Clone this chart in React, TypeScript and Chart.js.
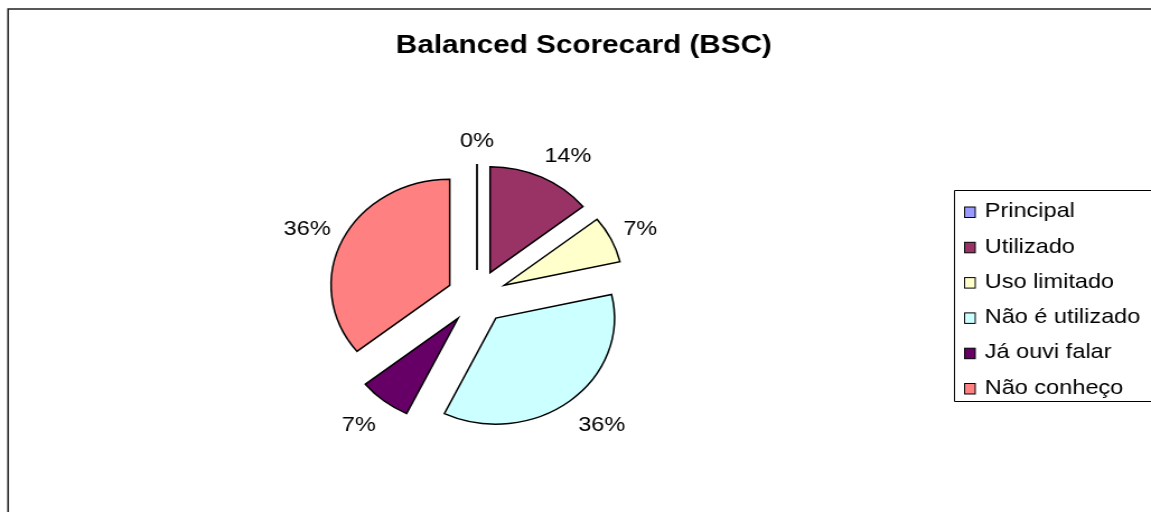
import React, { useEffect, useRef } from 'react';
import { Chart, registerables } from 'chart.js';

Chart.register(...registerables);

// ---- data ----
const categories = ['Principal', 'Utilizado', 'Uso limitado', 'Não é utilizado', 'Já ouvi falar', 'Não conheço'];
const responses = [0, 2, 1, 5, 1, 5];
const sliceColors = ['#9999FF', '#993366', '#FFFFCC', '#CCFFFF', '#660066', '#FF8080'];
const chartTitle = 'Balanced Scorecard (BSC)';

// ---- layout (internal canvas units; canvas is stretched horizontally) ----
const PAGE_W = 1151;
const PAGE_H = 512;
const CANVAS_W = 1028;
const EXPLODE = 27;
const RADIUS = 106;
const FONT = '"Liberation Sans", Arial, Helvetica, sans-serif';

const clamp1 = (v: number) => Math.max(-1, Math.min(1, v));

const decorPlugin = {
  id: 'decor',
  beforeDraw(chart: any) {
    const ctx = chart.ctx as CanvasRenderingContext2D;
    ctx.save();
    ctx.fillStyle = '#ffffff';
    ctx.fillRect(0, 0, chart.width, chart.height);
    // outer chart border (top + left visible)
    ctx.strokeStyle = '#222222';
    ctx.lineWidth = 1.5;
    ctx.beginPath();
    ctx.moveTo(7.2, chart.height + 5);
    ctx.lineTo(7.2, 9);
    ctx.lineTo(chart.width + 10, 9);
    ctx.stroke();
    // title
    ctx.fillStyle = '#000';
    ctx.font = `bold 26.5px ${FONT}`;
    ctx.textAlign = 'center';
    ctx.textBaseline = 'alphabetic';
    ctx.fillText(chartTitle, 521.5, 53);
    // legend
    const lx = 852, ly = 190, lb = 401;
    ctx.strokeStyle = '#000';
    ctx.lineWidth = 1;
    ctx.beginPath();
    ctx.moveTo(chart.width + 10, ly + 0.5);
    ctx.lineTo(lx + 0.5, ly + 0.5);
    ctx.lineTo(lx + 0.5, lb + 0.5);
    ctx.lineTo(chart.width + 10, lb + 0.5);
    ctx.stroke();
    const labels: string[] = chart.data.labels;
    const colors: string[] = chart.data.datasets[0].backgroundColor;
    ctx.font = `21px ${FONT}`;
    ctx.textAlign = 'left';
    ctx.textBaseline = 'middle';
    labels.forEach((lab, i) => {
      const rc = 211.5 + 35.3 * i;
      ctx.fillStyle = colors[i];
      ctx.fillRect(861.5, rc - 4.5, 9.5, 10.5);
      ctx.strokeStyle = '#000';
      ctx.lineWidth = 1;
      ctx.strokeRect(861.5, rc - 4.5, 9.5, 10.5);
      ctx.fillStyle = '#000';
      ctx.fillText(lab, 879.5, rc);
    });
    ctx.restore();
  },
  beforeDatasetsDraw(chart: any) {
    const ctx = chart.ctx as CanvasRenderingContext2D;
    const meta = chart.getDatasetMeta(0);
    const values: number[] = chart.data.datasets[0].data;
    const total = values.reduce((a, b) => a + b, 0);
    meta.data.forEach((arc: any) => {
      const { x, y, startAngle, endAngle, outerRadius } = arc.getProps(['x', 'y', 'startAngle', 'endAngle', 'outerRadius']);
      const mid = (startAngle + endAngle) / 2;
      ctx.save();
      ctx.translate(Math.cos(mid) * EXPLODE, Math.sin(mid) * EXPLODE);
      if (endAngle - startAngle > 0) {
        arc.draw(ctx);
      } else {
        ctx.beginPath();
        ctx.moveTo(x, y);
        ctx.lineTo(x + Math.cos(startAngle) * outerRadius, y + Math.sin(startAngle) * outerRadius);
        ctx.strokeStyle = '#000';
        ctx.lineWidth = 1.8;
        ctx.stroke();
      }
      ctx.restore();
    });
    // percentage labels
    ctx.save();
    ctx.font = `21px ${FONT}`;
    ctx.fillStyle = '#000';
    ctx.textAlign = 'center';
    ctx.textBaseline = 'middle';
    meta.data.forEach((arc: any, i: number) => {
      const { x, y, startAngle, endAngle, outerRadius } = arc.getProps(['x', 'y', 'startAngle', 'endAngle', 'outerRadius']);
      const mid = (startAngle + endAngle) / 2;
      const dx = Math.cos(mid), dy = Math.sin(mid);
      const text = `${Math.round((values[i] / total) * 100)}%`;
      const w = ctx.measureText(text).width;
      const r = EXPLODE + outerRadius;
      const px = x + dx * (r + 12) + (w / 2) * clamp1(2 * dx);
      const py = y + dy * r + dy * (dy > 0 ? 31 : 23);
      ctx.fillText(text, px, py);
    });
    ctx.restore();
    return false;
  },
};

export default function App() {
  const ref = useRef<HTMLCanvasElement | null>(null);
  useEffect(() => {
    if (!ref.current) return;
    const chart = new Chart(ref.current, {
      type: 'pie',
      data: {
        labels: categories,
        datasets: [
          {
            data: responses,
            backgroundColor: sliceColors,
            borderColor: '#000000',
            borderWidth: 1.5,
            borderJoinStyle: 'miter',
          } as any,
        ],
      },
      options: {
        responsive: false,
        animation: false,
        devicePixelRatio: 1,
        events: [],
        radius: RADIUS,
        layout: { padding: { left: 0, right: CANVAS_W - 852, top: 82, bottom: 0 } },
        plugins: {
          legend: { display: false },
          title: { display: false },
          tooltip: { enabled: false },
        },
      } as any,
      plugins: [decorPlugin],
    });
    return () => chart.destroy();
  }, []);
  return (
    <div style={{ position: 'fixed', left: 0, top: 0, width: PAGE_W, height: PAGE_H, background: '#fff' }}>
      <canvas ref={ref} width={CANVAS_W} height={PAGE_H} style={{ width: `${PAGE_W}px`, height: `${PAGE_H}px`, display: 'block' }} />
    </div>
  );
}
